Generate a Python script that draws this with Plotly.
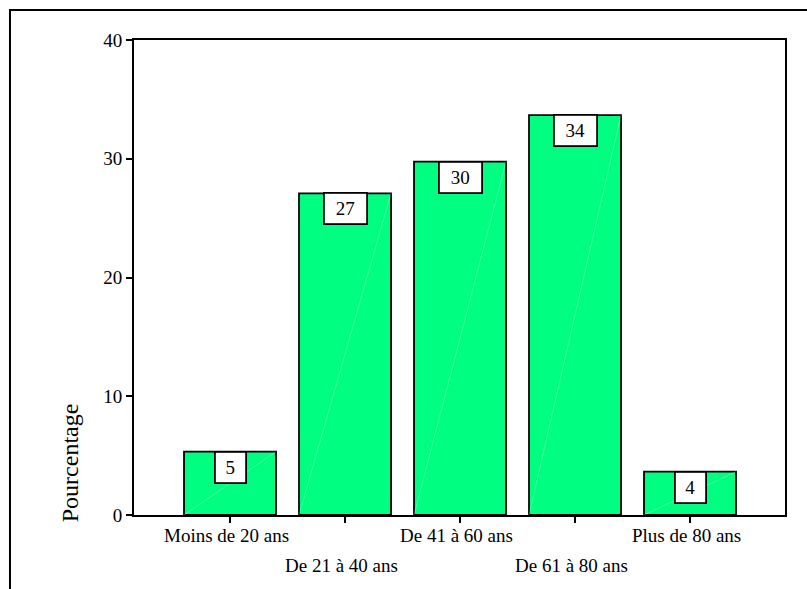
import plotly.graph_objects as go

# Age groups and share of respondents (%)
categories = ["Moins de 20 ans", "De 21 à 40 ans", "De 41 à 60 ans",
              "De 61 à 80 ans", "Plus de 80 ans"]
pourcentage = [5.33, 27.09, 29.75, 33.68, 3.65]
y_ticks = [0, 10, 20, 30, 40]

FONT = "Liberation Serif, Times New Roman, serif"
BAR_COLOR = "#00FF80"
BAR_WIDTH = 0.8

x_idx = list(range(len(categories)))

fig = go.Figure()
fig.add_trace(go.Bar(
    x=x_idx,
    y=pourcentage,
    width=BAR_WIDTH,
    marker=dict(color=BAR_COLOR, line=dict(color="black", width=1.8)),
    hoverinfo="skip",
))

annotations = []
# Value boxes at the top of each bar
for xi, v in zip(x_idx, pourcentage):
    txt = f"{v:.0f}"
    annotations.append(dict(
        x=xi, y=v, xref="x", yref="y",
        text=txt, showarrow=False,
        yanchor="top", yshift=1,
        width=12 * len(txt) + 9,
        font=dict(family=FONT, size=19, color="black"),
        bgcolor="white", bordercolor="black", borderwidth=1.8, borderpad=4,
    ))

# Category labels, staggered on two rows
for xi, name in zip(x_idx, categories):
    annotations.append(dict(
        x=xi, y=0, xref="x", yref="paper",
        text=name, showarrow=False, xshift=-4,
        yanchor="middle", yshift=-20 if xi % 2 == 0 else -50,
        font=dict(family=FONT, size=19, color="black"),
    ))

# Y-axis title, sitting low beside the axis
annotations.append(dict(
    x=-0.0983, y=0.109, xref="paper", yref="paper",
    text="Pourcentage", showarrow=False, textangle=-90,
    xanchor="center", yanchor="middle",
    font=dict(family=FONT, size=24, color="black"),
))

# Outer frame around the whole chart
shapes = [dict(
    type="rect", xref="paper", yref="paper",
    x0=-0.1905, y0=-0.3, x1=1.2, y1=1.0632,
    line=dict(color="black", width=2), fillcolor="rgba(0,0,0,0)",
    layer="below",
)]
# Faint diagonal sheen across each bar (bottom-left to top-right)
for xi, v in zip(x_idx, pourcentage):
    shapes.append(dict(
        type="line", xref="x", yref="y",
        x0=xi - BAR_WIDTH / 2, y0=0, x1=xi + BAR_WIDTH / 2, y1=v,
        line=dict(color="rgba(230,255,245,0.4)", width=0.7),
        layer="above",
    ))

fig.update_layout(
    width=807, height=589,
    margin=dict(l=134, r=22, t=40, b=74),
    paper_bgcolor="white",
    plot_bgcolor="white",
    showlegend=False,
    annotations=annotations,
    shapes=shapes,
    xaxis=dict(
        range=[-0.835, 4.826],
        tickvals=x_idx,
        showticklabels=False,
        ticks="outside", ticklen=6, tickwidth=1.5, tickcolor="black",
        showline=True, linecolor="black", linewidth=2, mirror=True,
        showgrid=False, zeroline=False,
    ),
    yaxis=dict(
        range=[0, 40],
        tickvals=y_ticks,
        ticks="outside", ticklen=6, tickwidth=1.5, tickcolor="black",
        tickfont=dict(family=FONT, size=19, color="black"),
        showline=True, linecolor="black", linewidth=2, mirror=True,
        showgrid=False, zeroline=False,
    ),
)

fig.write_html("out.html")
